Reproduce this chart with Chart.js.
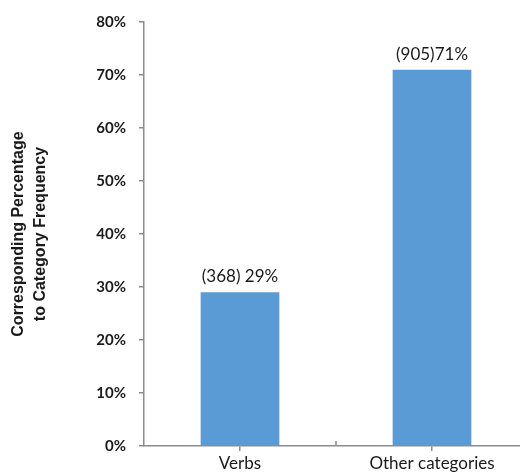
<!DOCTYPE html>
<html>
<head>
<meta charset="utf-8">
<script src="https://cdn.jsdelivr.net/npm/chart.js@4.4.1/dist/chart.umd.min.js"></script>
<style>
  html, body { margin: 0; padding: 0; background: #fff; overflow: hidden; }
  #wrap { position: absolute; left: 0; top: 0; width: 540px; height: 475px; }
</style>
</head>
<body>
<div id="wrap"><canvas id="chart" width="540" height="475"></canvas></div>
<script>
const categories = ["Verbs", "Other categories"];
const percentages = [29, 71];
const counts = [368, 905];
const barLabels = ["(368) 29%", "(905)71%"];

const barLabelPlugin = {
  id: "barLabels",
  afterDatasetsDraw(chart) {
    const ctx = chart.ctx;
    const meta = chart.getDatasetMeta(0);
    ctx.save();
    ctx.font = "17px Lato";
    ctx.fillStyle = "#1a1a1a";
    ctx.textAlign = "center";
    ctx.textBaseline = "bottom";
    meta.data.forEach((bar, i) => {
      ctx.fillText(barLabels[i], bar.x, bar.y - 7);
    });
    // small tick between the two categories, drawn upward like the original
    const x = chart.scales.x;
    const mid = (x.getPixelForValue(0) + x.getPixelForValue(1)) / 2;
    ctx.strokeStyle = "#8c8c8c";
    ctx.lineWidth = 1.5;
    ctx.beginPath();
    ctx.moveTo(mid, x.top);
    ctx.lineTo(mid, x.top - 5);
    ctx.stroke();
    ctx.restore();
  },
};

new Chart(document.getElementById("chart").getContext("2d"), {
  type: "bar",
  data: {
    labels: categories,
    datasets: [
      {
        data: percentages,
        backgroundColor: "#5b9bd5",
        categoryPercentage: 1,
        barPercentage: 0.41,
      },
    ],
  },
  options: {
    responsive: false,
    animation: false,
    layout: { padding: { top: 8, right: 12, left: 0, bottom: 0 } },
    plugins: {
      legend: { display: false },
      tooltip: { enabled: false },
    },
    scales: {
      x: {
        grid: {
          display: true,
          drawOnChartArea: false,
          offset: false,
          tickLength: 5,
          color: "#8c8c8c",
          lineWidth: 1.5,
        },
        border: { color: "#8c8c8c", width: 1.5 },
        ticks: {
          color: "#1a1a1a",
          font: { family: "Lato", size: 17 },
          padding: 2,
        },
        afterFit: (scale) => {
          scale.height = 29;
        },
      },
      y: {
        min: 0,
        max: 80,
        ticks: {
          stepSize: 10,
          color: "#1a1a1a",
          font: { family: "Lato", size: 15, weight: "bold" },
          padding: 13,
          callback: (v) => v + "%",
        },
        grid: {
          display: true,
          drawOnChartArea: false,
          tickLength: 5,
          color: "#8c8c8c",
          lineWidth: 1.5,
        },
        border: { color: "#8c8c8c", width: 1.5 },
        title: {
          display: true,
          text: ["Corresponding Percentage", "to Category Frequency"],
          color: "#1a1a1a",
          font: { family: "Liberation Sans", size: 16, weight: "bold", lineHeight: 1.35 },
          padding: { top: 8, bottom: 0 },
        },
        afterFit: (scale) => {
          scale.width = 144;
        },
      },
    },
  },
  plugins: [barLabelPlugin],
});
</script>
</body>
</html>
